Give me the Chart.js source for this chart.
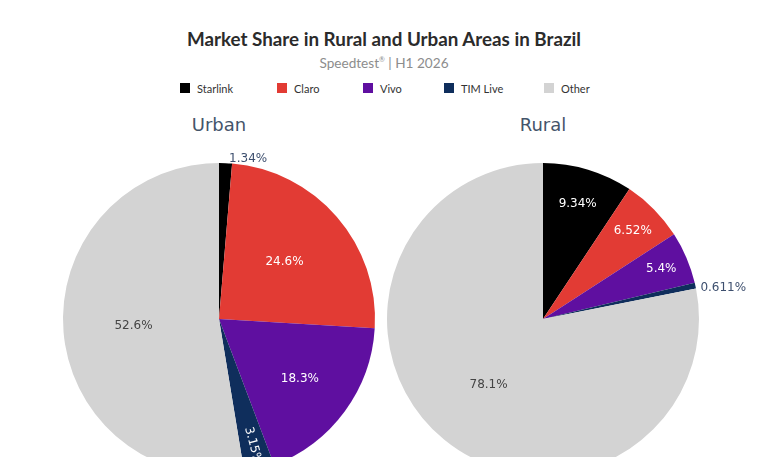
<!DOCTYPE html>
<html lang="en">
<head>
  <meta charset="UTF-8" />
  <title>Market Share in Rural and Urban Areas in Brazil</title>
  <script src="https://cdn.jsdelivr.net/npm/chart.js"></script>
  <style>
    html, body {
      margin: 0;
      padding: 0;
      background: #ffffff;
      overflow: hidden;
    }
    #page {
      position: relative;
      width: 768px;
      height: 457px;
      overflow: hidden;
    }
    #title {
      position: absolute;
      left: 0; top: 28px; width: 768px;
      text-align: center;
      font-family: Lato, sans-serif;
      font-weight: bold;
      font-size: 18.8px;
      line-height: 22px;
      color: #2b2b2b;
    }
    #subtitle {
      position: absolute;
      left: 0; top: 51px; width: 768px;
      text-align: center;
      font-family: Lato, sans-serif;
      font-size: 13.6px;
      line-height: 17px;
      color: #8d8d8d;
    }
    #subtitle sup { font-size: 7px; vertical-align: 6px; }
    .legend-item {
      position: absolute;
      top: 81px;
      height: 14px;
      display: flex;
      align-items: center;
      font-family: Lato, sans-serif;
      font-size: 11px;
      color: #333;
    }
    .legend-item span.box {
      width: 10px; height: 10px;
      margin-right: 7px;
      display: inline-block;
    }
    .pie-title {
      position: absolute;
      top: 114px;
      width: 200px;
      text-align: center;
      font-family: "DejaVu Sans", sans-serif;
      font-size: 18px;
      line-height: 22px;
      color: #44546a;
    }
    canvas { position: absolute; }
  </style>
</head>
<body>
<div id="page">
  <div id="title">Market Share in Rural and Urban Areas in Brazil</div>
  <div id="subtitle">Speedtest<sup>®</sup> | H1 2026</div>
  <div id="legend"></div>
  <div class="pie-title" style="left:119px">Urban</div>
  <div class="pie-title" style="left:443px">Rural</div>
  <canvas id="urbanChart" width="420" height="360" style="left:9px; top:139px"></canvas>
  <canvas id="ruralChart" width="420" height="360" style="left:333px; top:139px"></canvas>
</div>

<script>
  // data
  const providers = ['Starlink', 'Claro', 'Vivo', 'TIM Live', 'Other'];
  const providerColors = ['#000000', '#e23b34', '#5f0fa0', '#0f2e5c', '#d3d3d3'];
  const urbanShare = [1.34, 24.6, 18.3, 3.15, 52.6];
  const ruralShare = [9.34, 6.52, 5.4, 0.611, 78.1];

  // html legend, one row shared by both pies
  const legendLeft = [180, 277, 363, 444, 544];
  const legend = document.getElementById('legend');
  providers.forEach((name, i) => {
    const item = document.createElement('div');
    item.className = 'legend-item';
    item.style.left = legendLeft[i] + 'px';
    item.innerHTML = '<span class="box" style="background:' + providerColors[i] + '"></span>' + name;
    legend.appendChild(item);
  });

  // percent labels, plotly style: inside when it fits, radial when narrow, outside when tiny
  const sliceLabels = {
    id: 'sliceLabels',
    afterDatasetsDraw(chart) {
      const ctx = chart.ctx;
      const meta = chart.getDatasetMeta(0);
      const values = chart.data.datasets[0].data;
      ctx.save();
      ctx.font = '12px "DejaVu Sans", Verdana, sans-serif';
      meta.data.forEach((arc, i) => {
        const p = arc.getProps(['x', 'y', 'startAngle', 'endAngle', 'outerRadius'], true);
        const span = p.endAngle - p.startAngle;
        const mid = (p.startAngle + p.endAngle) / 2;
        const cos = Math.cos(mid), sin = Math.sin(mid);
        const text = values[i] + '%';
        const isOther = chart.data.labels[i] === 'Other';

        if (values[i] < 2) {
          // outside label
          const ex = p.x + cos * p.outerRadius;
          const ey = p.y + sin * p.outerRadius;
          ctx.fillStyle = '#3d4f6e';
          ctx.textAlign = cos >= 0 ? 'left' : 'right';
          if (sin < -0.7) {
            ctx.textBaseline = 'alphabetic';
            ctx.fillText(text, ex + 3.5, ey - 1.5);
          } else {
            ctx.textBaseline = 'middle';
            ctx.fillText(text, ex + 5 * Math.sign(cos), ey + 2);
          }
        } else if (span < Math.PI / 12) {
          // narrow slice: text along the radius
          const r = p.outerRadius * 0.84;
          ctx.save();
          ctx.translate(p.x + cos * r, p.y + sin * r);
          ctx.rotate(mid);
          ctx.fillStyle = '#ffffff';
          ctx.textAlign = 'center';
          ctx.textBaseline = 'middle';
          ctx.fillText(text, 0, 0);
          ctx.restore();
        } else {
          const f = Math.max(0.55, 0.9 - 0.35 * span / (Math.PI / 2));
          const r = p.outerRadius * f;
          ctx.fillStyle = isOther ? '#444444' : '#ffffff';
          ctx.textAlign = 'center';
          ctx.textBaseline = 'middle';
          ctx.fillText(text, p.x + cos * r, p.y + sin * r);
        }
      });
      ctx.restore();
    }
  };

  function createPie(canvasId, values) {
    return new Chart(document.getElementById(canvasId).getContext('2d'), {
      type: 'pie',
      data: {
        labels: providers,
        datasets: [{
          data: values,
          backgroundColor: providerColors,
          borderWidth: 0
        }]
      },
      options: {
        responsive: false,
        animation: false,
        layout: { padding: { top: 24, bottom: 24, left: 14, right: 14 } },
        plugins: {
          legend: { display: false },
          tooltip: { enabled: false }
        }
      },
      plugins: [sliceLabels]
    });
  }

  createPie('urbanChart', urbanShare);
  createPie('ruralChart', ruralShare);
</script>
</body>
</html>
